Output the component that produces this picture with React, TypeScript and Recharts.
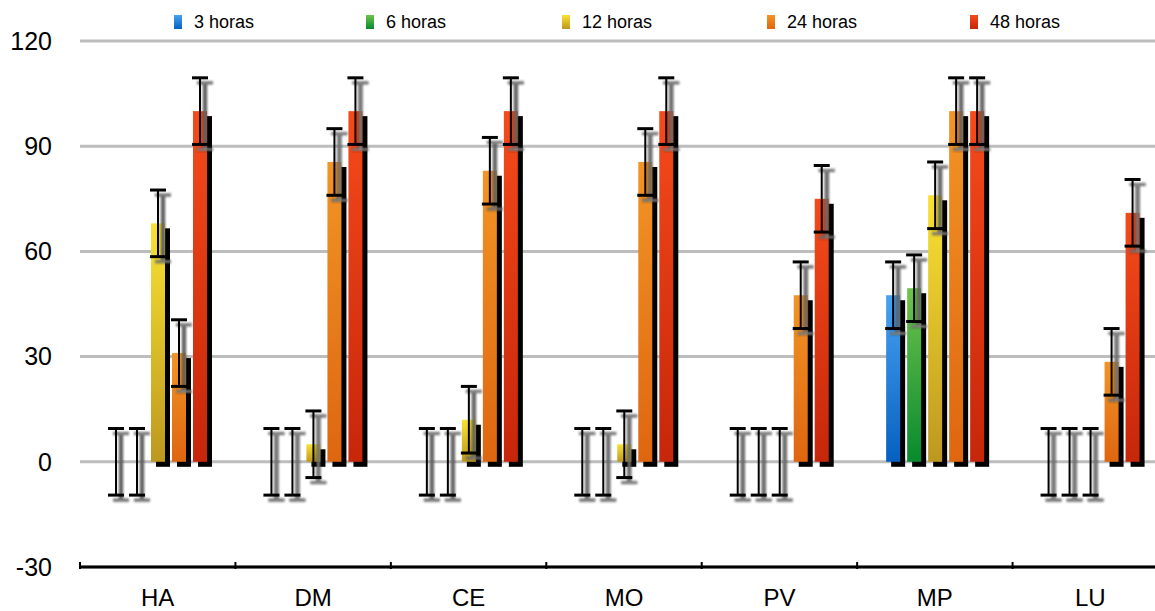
import * as React from 'react';
import { BarChart, Bar, XAxis, YAxis, CartesianGrid } from 'recharts';

const categories = ['HA', 'DM', 'CE', 'MO', 'PV', 'MP', 'LU'];
const seriesNames = ['3 horas', '6 horas', '12 horas', '24 horas', '48 horas'];
const h3 = [0, 0, 0, 0, 0, 47.5, 0];
const h6 = [0, 0, 0, 0, 0, 49.5, 0];
const h12 = [68, 5, 12, 5, 0, 76, 0];
const h24 = [31, 85.5, 83, 85.5, 47.5, 100, 28.5];
const h48 = [100, 100, 100, 100, 75, 100, 71];
const errors = [9.5, 9.5, 9.5, 9.5, 9.5];
const yTicks = [-30, 0, 30, 60, 90, 120];

const seriesValues = [h3, h6, h12, h24, h48];
const keys = ['h3', 'h6', 'h12', 'h24', 'h48'];
const gradients = [
  ['#47a2f2', '#0660c0'],
  ['#6ec44c', '#088a2e'],
  ['#f9e233', '#bd981f'],
  ['#f29426', '#de6610'],
  ['#f54a1b', '#c6260a'],
];
const legendLeft = [174, 366, 562, 767, 970];

const data = categories.map((name, i) => {
  const row: Record<string, any> = { name };
  keys.forEach((k, s) => (row[k] = seriesValues[s][i]));
  return row;
});

const DOMAIN: [number, number] = [-30, 120];
const FONT = '"Liberation Sans", Arial, Helvetica, sans-serif';

function BarShape(props: any) {
  const { x, y, width, height, background, s, payload } = props;
  const value = payload[keys[s]];
  const bg = background || { y: 41, height: 526 };
  const k = bg.height / (DOMAIN[1] - DOMAIN[0]);
  const yOf = (v: number) => bg.y + (DOMAIN[1] - v) * k;
  const cx = x + width / 2;
  const top = yOf(value + errors[s]);
  const bot = yOf(value - errors[s]);
  const wh = 8;
  const h = Math.abs(height);
  const ry = Math.min(y, y + height);
  return (
    <g>
      {h > 0.5 && (
        <>
          <rect x={x + 5} y={ry + 5} width={width} height={h} fill="#000" />
          <rect x={x} y={ry} width={width} height={h} fill={`url(#grad${s})`} />
        </>
      )}
      <g filter="url(#soft)" transform="translate(5,5)">
        <g stroke="#222" strokeWidth={4}>
          <line x1={cx} x2={cx} y1={top} y2={bot} />
          <line x1={cx - wh} x2={cx + wh} y1={top} y2={top} strokeWidth={3} />
          <line x1={cx - wh} x2={cx + wh} y1={bot} y2={bot} strokeWidth={3} />
        </g>
        <g stroke="#aaa" strokeWidth={1.2}>
          <line x1={cx} x2={cx} y1={top} y2={bot} />
          <line x1={cx - wh} x2={cx + wh} y1={top} y2={top} />
          <line x1={cx - wh} x2={cx + wh} y1={bot} y2={bot} />
        </g>
      </g>
      <g stroke="#000">
        <line x1={cx} x2={cx} y1={top} y2={bot} strokeWidth={2} />
        <line x1={cx - wh} x2={cx + wh} y1={top} y2={top} strokeWidth={3} />
        <line x1={cx - wh} x2={cx + wh} y1={bot} y2={bot} strokeWidth={3} />
      </g>
    </g>
  );
}

function XTick(props: any) {
  const { x, y, payload } = props;
  const off = payload && payload.offset != null ? payload.offset : 77.7;
  return (
    <g>
      <line x1={x - off} x2={x - off} y1={y} y2={y - 7} stroke="#000" strokeWidth={2} />
      <text x={x} y={y + 37} textAnchor="middle" fontSize={24} fill="#000" fontFamily={FONT}>
        {payload.value}
      </text>
    </g>
  );
}

export default function App() {
  return (
    <div style={{ position: 'absolute', left: 0, top: 0, width: 1155, height: 611, overflow: 'hidden', background: '#fff' }}>
      <svg width={0} height={0} style={{ position: 'absolute' }}>
        <defs>
          {gradients.map((g, i) => (
            <linearGradient key={i} id={`grad${i}`} x1="0" y1="0" x2="0" y2="1">
              <stop offset="0%" stopColor={g[0]} />
              <stop offset="100%" stopColor={g[1]} />
            </linearGradient>
          ))}
          <filter id="soft" x="-50%" y="-10%" width="200%" height="120%">
            <feGaussianBlur stdDeviation="0.8" />
          </filter>
        </defs>
      </svg>
      <BarChart
        width={1168}
        height={611}
        data={data}
        margin={{ top: 41, right: 0, bottom: 0, left: 0 }}
        barSize={14}
        barGap={7}
      >
        <CartesianGrid vertical={false} stroke="#bdbdbd" strokeWidth={3} />
        <XAxis
          dataKey="name"
          height={44}
          axisLine={{ stroke: '#000', strokeWidth: 3 }}
          tickLine={false}
          tickSize={0}
          tick={<XTick />}
          interval={0}
        />
        <YAxis
          width={80}
          domain={DOMAIN}
          ticks={yTicks}
          axisLine={false}
          tickLine={false}
          tickSize={0}
          tickMargin={28}
          tick={{ fill: '#000', fontSize: 25, fontFamily: FONT }}
        />
        {keys.map((k, s) => (
          <Bar
            key={k}
            dataKey={k}
            name={seriesNames[s]}
            isAnimationActive={false}
            shape={(p: any) => <BarShape {...p} s={s} />}
          />
        ))}
      </BarChart>
      {seriesNames.map((n, i) => (
        <div
          key={n}
          style={{ position: 'absolute', left: legendLeft[i], top: 12, display: 'flex', alignItems: 'center', fontFamily: FONT, fontSize: 18, lineHeight: '20px', color: '#000' }}
        >
          <span
            style={{
              display: 'inline-block',
              width: 8,
              height: 14,
              marginRight: 12,
              background: `linear-gradient(${gradients[i][0]}, ${gradients[i][1]})`,
            }}
          />
          {n}
        </div>
      ))}
    </div>
  );
}
